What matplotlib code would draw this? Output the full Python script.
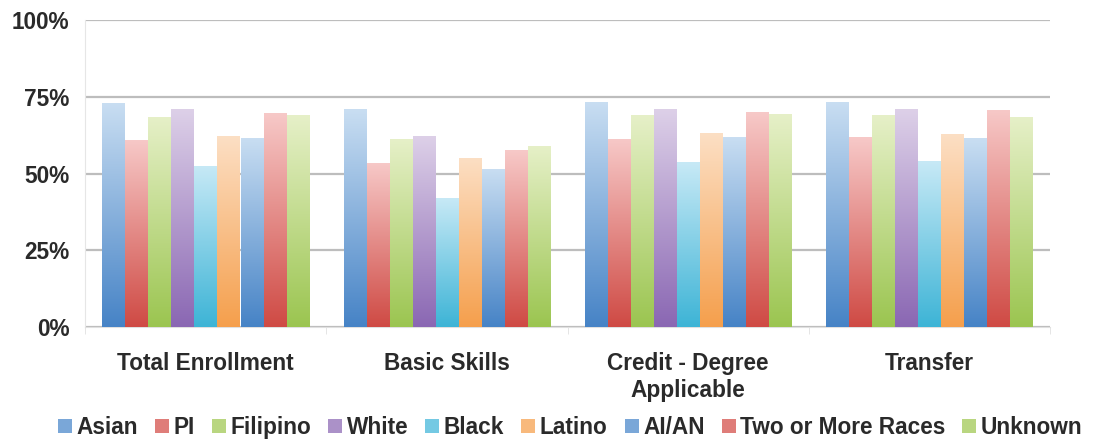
import numpy as np
import matplotlib
matplotlib.use("Agg")
import matplotlib.pyplot as plt
from matplotlib.colors import LinearSegmentedColormap, to_rgb
from matplotlib.patches import Patch
from matplotlib.ticker import FuncFormatter

plt.rcParams['font.family'] = ['Liberation Sans', 'DejaVu Sans']
plt.rcParams['font.weight'] = 'bold'

categories = ["Total Enrollment", "Basic Skills", "Credit - Degree\nApplicable", "Transfer"]
series = ["Asian", "PI", "Filipino", "White", "Black", "Latino", "AI/AN", "Two or More Races", "Unknown"]
asian   = [73.0, 70.9, 73.4, 73.4]
pi      = [61.0, 53.5, 61.3, 61.8]
filipino= [68.5, 61.1, 69.0, 69.0]
white   = [70.9, 62.2, 71.0, 70.9]
black   = [52.5, 41.9, 53.6, 54.0]
latino  = [62.2, 55.2, 63.1, 62.8]
aian    = [61.7, 51.6, 62.0, 61.5]
two     = [69.6, 57.6, 69.9, 70.7]
unknown = [69.0, 59.1, 69.3, 68.3]
values = [asian, pi, filipino, white, black, latino, aian, two, unknown]
yticks = [0, 25, 50, 75, 100]

blue = ("#4683c6", "#c9def2")
red = ("#cf4a44", "#f7c9c8")
green = ("#9bc550", "#e6f0c8")
purple = ("#8a67b3", "#ddd0e8")
cyan = ("#3db4d6", "#c7e9f6")
orange = ("#f59f4c", "#fcdfc4")
colors = [blue, red, green, purple, cyan, orange, blue, red, green]

FS = 16.3
TC = '#2a2a2a'

fig = plt.figure(figsize=(10.99, 4.4), dpi=100)
ax = fig.add_axes([85/1099, 113/440, 965/1099, 307/440])

n = len(series)
w = 0.0955
x = np.arange(len(categories))
grad = np.linspace(0, 1, 256).reshape(-1, 1)
for j, (s, vals, (dark, light)) in enumerate(zip(series, values, colors)):
    cmap = LinearSegmentedColormap.from_list(s, [dark, light])
    bars = ax.bar(x + (j - (n - 1) / 2) * w, vals, width=w * 0.97, color=dark, zorder=2, linewidth=0)
    for b in bars:
        x0, y0 = b.get_x(), b.get_y()
        x1, y1 = x0 + b.get_width(), y0 + b.get_height()
        im = ax.imshow(grad, cmap=cmap, origin='lower', extent=[x0, x1, y0, y1],
                       aspect='auto', zorder=3, interpolation='bilinear')
        im.set_clip_path(b)

ax.set_xlim(-0.5, len(categories) - 0.5)
ax.set_ylim(0, 100)
ax.set_yticks(yticks)
ax.yaxis.set_major_formatter(FuncFormatter(lambda v, p: f"{int(v)}%"))
ax.grid(axis='y', color='#bdbdbd', linewidth=1.6, zorder=0)
ax.set_axisbelow(True)
for sp in ['top', 'right']:
    ax.spines[sp].set_visible(False)
ax.spines['left'].set_color('#e6e6e6')
ax.spines['bottom'].set_color('#e0e0e0')
ax.set_xticks(x)
ax.set_xticklabels(categories, fontsize=FS, linespacing=1.2, color=TC)
ax.set_xticks(np.arange(len(categories) + 1) - 0.5, minor=True)
ax.tick_params(axis='x', which='major', length=0, pad=18)
ax.tick_params(axis='x', which='minor', length=5, color='#e0e0e0')
ax.tick_params(axis='y', length=0, labelsize=FS, pad=11, labelcolor=TC)

def mid(c):
    a, b = np.array(to_rgb(c[0])), np.array(to_rgb(c[1]))
    return tuple(0.6 * a + 0.4 * b)

handles = [Patch(facecolor=mid(c), edgecolor='none') for c in colors]
leg = fig.legend(handles, series, loc='center', bbox_to_anchor=(0.519, 0.028), ncol=9,
                 frameon=False, fontsize=FS, handlelength=0.62, handleheight=0.55,
                 handletextpad=0.2, columnspacing=0.75, borderaxespad=0, borderpad=0)
for t in leg.get_texts():
    t.set_color(TC)

fig.savefig("out.png", dpi=100)
